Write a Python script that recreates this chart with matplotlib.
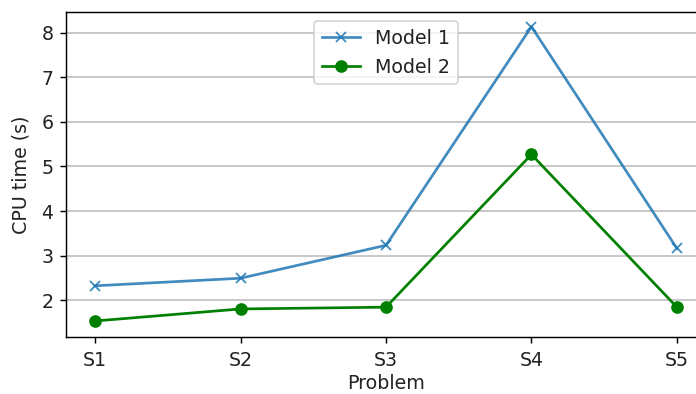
import numpy as np
import matplotlib.pyplot as plt

problems = ["S1", "S2", "S3", "S4", "S5"]
model1_time = [2.32, 2.49, 3.23, 8.14, 3.16]
model2_time = [1.53, 1.80, 1.84, 5.27, 1.84]

plt.rcParams["font.size"] = 10.5
plt.rcParams["text.color"] = "#222222"
plt.rcParams["axes.labelcolor"] = "#222222"
plt.rcParams["xtick.labelcolor"] = "#222222"
plt.rcParams["ytick.labelcolor"] = "#222222"

W, H, DPI = 696, 394, 130
fig = plt.figure(figsize=(W / DPI, H / DPI), dpi=DPI)
# axes run past the right edge of the figure
ax = fig.add_axes([66 / W, 1 - 337 / H, 640 / W, 325 / H])

x = np.arange(len(problems))
ax.plot(x, model1_time, color="#1f77b4", alpha=0.85, marker="x", label="Model 1")
ax.plot(x, model2_time, color="green", marker="o", label="Model 2")

ax.set_xticks(x)
ax.set_xticklabels(problems)
ax.tick_params(axis="x", pad=4.5)
ax.set_ylim(1.17, 8.47)
ax.set_yticks([2, 3, 4, 5, 6, 7, 8])
ax.yaxis.grid(True, color="#c4c4c4", linewidth=1)
ax.set_axisbelow(True)

ax.set_xlabel("Problem", labelpad=2)
ax.set_ylabel("CPU time (s)", labelpad=6)
ax.legend(loc="upper center")

fig.savefig("out.png", dpi=DPI)
